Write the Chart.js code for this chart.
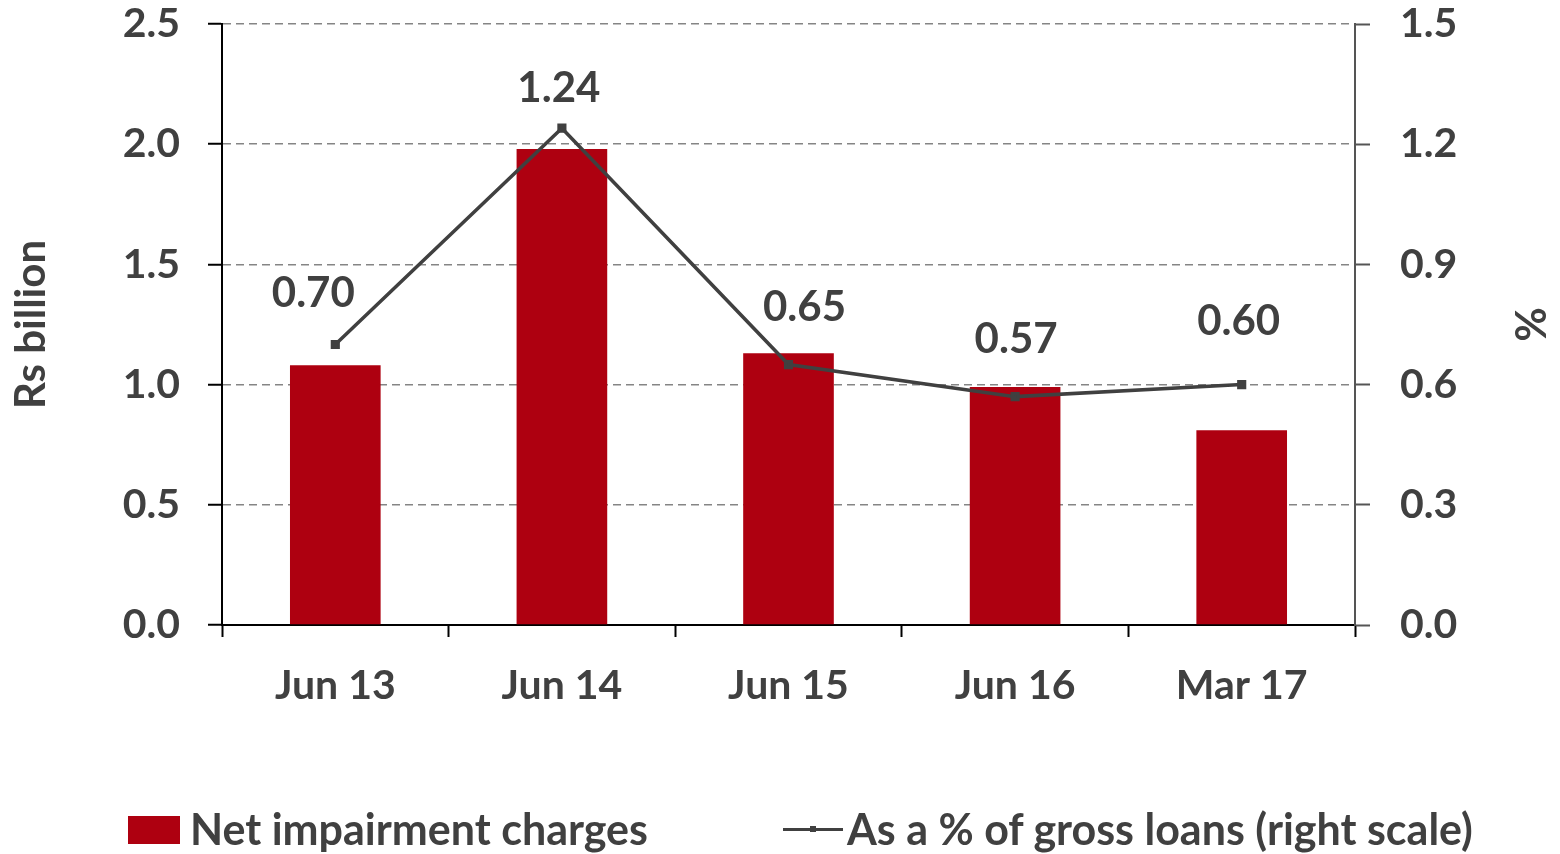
<!DOCTYPE html>
<html>
<head>
<meta charset="utf-8">
<script src="https://cdn.jsdelivr.net/npm/chart.js@4.4.1/dist/chart.umd.min.js"></script>
<style>
  html, body { margin: 0; padding: 0; background: #fff; }
  #wrap { position: relative; width: 1560px; height: 854px; }
  canvas { position: absolute; left: 0; top: 0; }
  .legend { position: absolute; top: 798px; font: bold 43px Lato, sans-serif; color: #404040; white-space: nowrap; line-height: 52px; }
  .legend span { display: inline-block; vertical-align: middle; }
  #leg1 { left: 128px; }
  #leg2 { left: 783px; }
  .box { width: 52px; height: 28px; background: #ae0010; margin-right: 10px; margin-top: 2px; }
  .ln { width: 60px; height: 3px; background: #404040; position: relative; margin-right: 4px; margin-top: 2px; }
  .ln i { position: absolute; left: 27px; top: -2px; width: 6px; height: 6px; background: #404040; }
</style>
</head>
<body>
<div id="wrap">
  <canvas id="c" width="1560" height="854"></canvas>
  <div class="legend" id="leg1"><span class="box"></span><span>Net impairment charges</span></div>
  <div class="legend" id="leg2"><span class="ln"><i></i></span><span>As a % of gross loans (right scale)</span></div>
</div>
<script>
const periods = ['Jun 13', 'Jun 14', 'Jun 15', 'Jun 16', 'Mar 17'];
const impairmentCharges = [1.08, 1.98, 1.13, 0.99, 0.81];   // Rs billion
const pctOfGrossLoans = [0.70, 1.24, 0.65, 0.57, 0.60];     // %

const textColor = '#404040';
const fontFamily = 'Lato, sans-serif';
const tickFont = { family: fontFamily, size: 41, weight: 'bold' };

// value labels above the line, nudged like the original
const labelOffsets = [[-22, -51], [-3, -40], [16, -57], [1, -57], [-3, -63]];

const lineLabels = {
  id: 'lineLabels',
  afterDatasetsDraw(chart) {
    const ctx = chart.ctx;
    const meta = chart.getDatasetMeta(1);
    ctx.save();
    ctx.font = 'bold 42px ' + fontFamily;
    ctx.fillStyle = textColor;
    ctx.textAlign = 'center';
    ctx.textBaseline = 'middle';
    meta.data.forEach((pt, i) => {
      const off = labelOffsets[i];
      ctx.fillText(pctOfGrossLoans[i].toFixed(2), pt.x + off[0], pt.y + off[1]);
    });
    ctx.restore();
  }
};

function fixY(width) {
  return scale => {
    scale.width = width;
    scale.paddingTop = 0;
    scale.paddingBottom = 0;
  };
}

new Chart(document.getElementById('c'), {
  type: 'bar',
  data: {
    labels: periods,
    datasets: [
      {
        label: 'Net impairment charges',
        data: impairmentCharges,
        backgroundColor: '#ae0010',
        yAxisID: 'y',
        barPercentage: 0.8,
        categoryPercentage: 0.5,
        order: 2
      },
      {
        type: 'line',
        label: 'As a % of gross loans (right scale)',
        data: pctOfGrossLoans,
        borderColor: textColor,
        backgroundColor: textColor,
        borderWidth: 3.5,
        pointStyle: 'rect',
        pointRadius: 4,
        tension: 0,
        yAxisID: 'y1',
        order: 1
      }
    ]
  },
  options: {
    responsive: false,
    animation: false,
    layout: { padding: { top: 24, bottom: 0, left: 0, right: 0 } },
    plugins: { legend: { display: false }, tooltip: { enabled: false } },
    scales: {
      x: {
        offset: true,
        grid: { drawOnChartArea: false, drawTicks: true, tickLength: 12, tickColor: '#000', tickWidth: 2, offset: true },
        border: { color: '#000', width: 2 },
        ticks: { color: textColor, font: tickFont, padding: 24 },
        afterFit(scale) { scale.height = 229; scale.paddingLeft = 0; scale.paddingRight = 0; }
      },
      y: {
        position: 'left',
        min: 0, max: 2.5,
        grid: { color: '#858585', lineWidth: 1.5, tickLength: 14, tickColor: '#000', tickWidth: 2, tickBorderDash: [] },
        border: { color: '#000', width: 2, dash: [8, 5] },
        ticks: { stepSize: 0.5, color: textColor, padding: 28, font: tickFont, callback: v => v.toFixed(1) },
        title: { display: true, text: 'Rs billion', color: textColor, font: { family: fontFamily, size: 42, weight: 'bold' }, padding: { top: 6, bottom: 0 } },
        afterFit: fixY(222)
      },
      y1: {
        position: 'right',
        min: 0, max: 1.5,
        grid: { drawOnChartArea: false, tickLength: 15, tickColor: '#555', tickWidth: 2 },
        border: { color: '#555', width: 2 },
        ticks: { stepSize: 0.3, color: textColor, padding: 30, font: tickFont, callback: v => v.toFixed(1) },
        title: { display: true, text: '%', color: textColor, font: { family: fontFamily, size: 42, weight: 'bold' }, padding: { top: 6, bottom: 0 } },
        afterFit: fixY(205)
      }
    }
  },
  plugins: [lineLabels]
});
</script>
</body>
</html>
